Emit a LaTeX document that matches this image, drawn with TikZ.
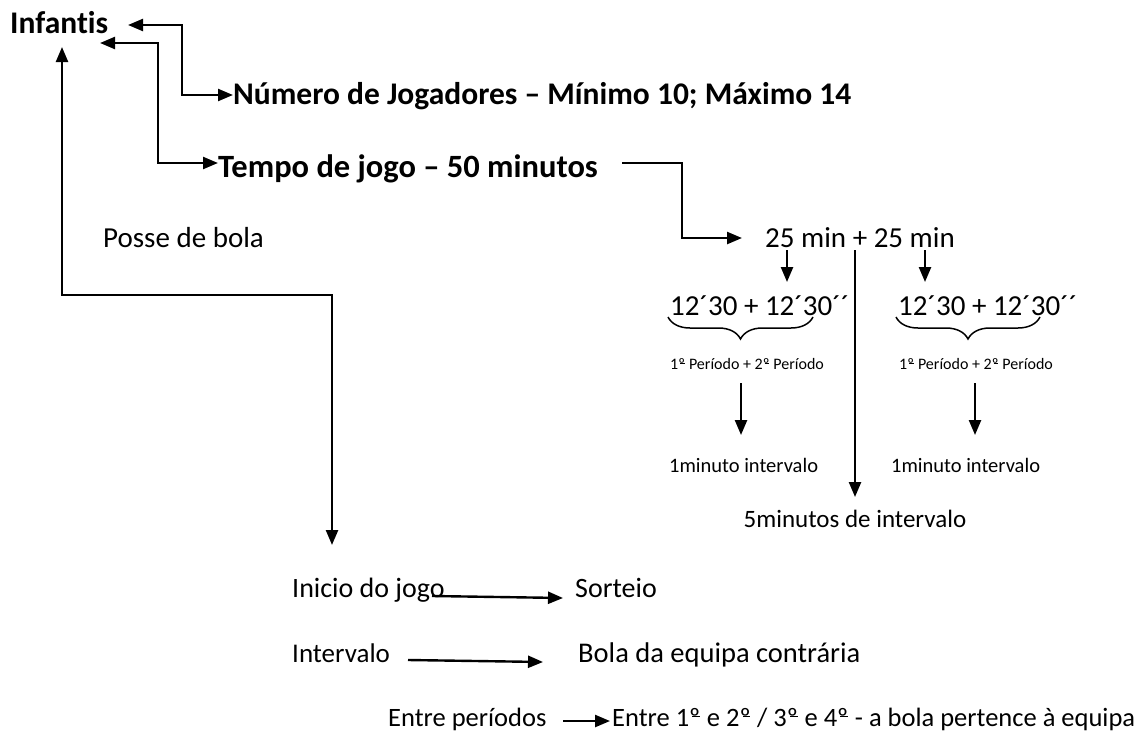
\documentclass[tikz,border=0pt]{standalone}
\usepackage{fontspec}
\setmainfont{Carlito}[Ligatures=NoCommon]
\usetikzlibrary{arrows.meta,decorations.pathreplacing}
\newcommand\ordm{º\kern-0.3em\rule[0.33em]{0.28em}{0.05em}\kern0.04em}
\begin{document}
\begin{tikzpicture}[x=1pt,y=-1pt,
 fs/.style={inner sep=0pt,anchor=base west,font=\fontsize{#1}{#1}\selectfont},
 fb/.style={inner sep=0pt,anchor=base west,font=\fontsize{#1}{#1}\selectfont\bfseries},
 conn/.style={line width=2.4pt},
 arr/.style={conn,-{Triangle[length=15pt,width=12pt]}},
 dbl/.style={conn,{Triangle[length=15pt,width=12pt]}-{Triangle[length=15pt,width=12pt]}},
 br/.style={line width=1.5pt,decorate,decoration={brace,mirror,amplitude=22pt}}]
\useasboundingbox (0,0) rectangle (1138,731);

\node[fb=31.5] (inf) at (10,33) {Infantis};
\node[fb=31.5] (num) at (233,104) {Número de Jogadores – Mínimo 10; Máximo 14};
\node[fb=32.5] (tempo) at (218,177) {Tempo de jogo – 50 minutos};
\node[fs=29] (posse) at (103,247) {Posse de bola};
\node[fs=29] (m25) at (765,247) {25 min + 25 min};
\node[fs=29] (p1) at (670,315) {12´30 + 12´30´´};
\node[fs=29] (p2) at (898,315) {12´30 + 12´30´´};
\node[fs=16] (per1) at (670,369) {1\ordm{} Período + 2\ordm{} Período};
\node[fs=16] (per2) at (899,369) {1\ordm{} Período + 2\ordm{} Período};
\node[fs=20.5] (int1) at (669,472) {1minuto intervalo};
\node[fs=20.5] (int2) at (891,472) {1minuto intervalo};
\node[fs=25,anchor=base] (int5) at (855,527) {5minutos de intervalo};
\node[fs=28] (ini) at (292,597) {Inicio do jogo};
\node[fs=28] (sort) at (575,597) {Sorteio};
\node[fs=27] (intv) at (292,662) {Intervalo};
\node[fs=28.5] (bola) at (578,662) {Bola da equipa contrária};
\node[fs=26.5] (entre) at (388,726) {Entre períodos};
\node[fs=26.5] (ent2) at (612,726) {Entre 1\ordm{} e 2\ordm{} / 3\ordm{} e 4\ordm{} - a bola pertence à equipa};

\coordinate (t1) at (128,25);
\coordinate (t2) at (100,43);
\coordinate (t3) at (62,47);
\coordinate (t4) at (332,545);
\coordinate (tb) at (682,163);

\draw[dbl] (t1) -- ++(54,0) |- ([yshift=9pt]num.base west);
\draw[dbl] (t2) -- ++(58,0) |- ([yshift=14pt]tempo.base west);
\draw[dbl] (t3) -- ++(0,248) -| (t4);

\draw[arr] ([xshift=24pt,yshift=14pt]tempo.base east) -- (tb) |- ([xshift=-23pt,yshift=9pt]m25.base west);
\draw[arr] ([xshift=22pt,yshift=-3pt]m25.base west) -- ++(0,32);
\draw[arr] ([xshift=160pt,yshift=-3pt]m25.base west) -- ++(0,32);
\draw[arr] ([xshift=90pt,yshift=-3pt]m25.base west) -- ++(0,247);

\draw[br] ([xshift=-2pt,yshift=-2pt]p1.base west) -- ++(145,0);
\draw[br] ([xshift=-2pt,yshift=-2pt]p2.base west) -- ++(144,0);

\draw[arr] ([xshift=71pt,yshift=-14pt]per1.base west) -- ++(0,52);
\draw[arr] ([xshift=76pt,yshift=-14pt]per2.base west) -- ++(0,52);

\draw[arr] ([xshift=140pt,yshift=1pt]ini.base west) -- ([xshift=-12pt,yshift=-1pt]sort.base west);
\draw[arr] ([xshift=116pt,yshift=2pt]intv.base west) -- ([xshift=-35pt,yshift=0pt]bola.base west);
\draw[arr] ([xshift=175pt,yshift=5pt]entre.base west) -- ([xshift=-2pt,yshift=5pt]ent2.base west);
\end{tikzpicture}
\end{document}
